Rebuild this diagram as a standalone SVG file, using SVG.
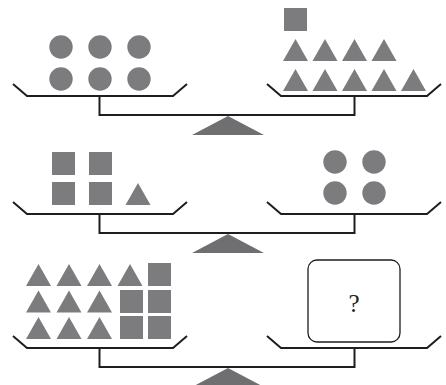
<svg xmlns="http://www.w3.org/2000/svg" width="446" height="385" viewBox="0 0 446 385">
  <defs>
    <style>
      .line { fill: none; stroke: #1e1e1e; stroke-width: 2; stroke-linejoin: miter; }
      .shape { fill: #7c7c7f; }
      .base { fill: #6f6f72; }
      .box { fill: #ffffff; stroke: #1e1e1e; stroke-width: 1.3; }
      .q { font-family: "Liberation Serif", "DejaVu Serif", serif; font-size: 25px; fill: #222; text-anchor: middle; }
    </style>
    <!-- pan: tilted rims joined by a flat floor -->
    <path id="pan" class="line" d="M0,0 L14,12 L160,12 L174,0"/>
    <circle id="ball" class="shape" r="11.7"/>
    <rect id="sq" class="shape" width="23" height="23"/>
    <path id="tri" class="shape" d="M0,22 L12.5,0 L25,22 Z"/>
  </defs>

  <!-- connectors: stems and beams of the three balances -->
  <g id="connectors">
    <path class="line" d="M99.5,96 V115 H354.5 V96"/>
    <path class="line" d="M99.5,214 V233 H354.5 V214"/>
    <path class="line" d="M99.5,348 V367 H354.5 V348"/>
  </g>

  <!-- fulcrums -->
  <g id="fulcrum1"><path class="base" d="M192,135 L228,116 L264,135 Z"/></g>
  <g id="fulcrum2"><path class="base" d="M192,253 L228,234 L264,253 Z"/></g>
  <g id="fulcrum3"><path class="base" d="M192,387 L228,368 L264,387 Z"/></g>

  <!-- balance 1 -->
  <g id="pan1-left">
    <use href="#pan" x="13" y="84"/>
    <use href="#ball" x="61" y="47"/>
    <use href="#ball" x="100" y="47"/>
    <use href="#ball" x="139" y="47"/>
    <use href="#ball" x="61" y="79"/>
    <use href="#ball" x="100" y="79"/>
    <use href="#ball" x="139" y="79"/>
  </g>
  <g id="pan1-right">
    <use href="#pan" x="267" y="84"/>
    <use href="#sq" x="284" y="8"/>
    <use href="#tri" x="283" y="39"/>
    <use href="#tri" x="312.5" y="39"/>
    <use href="#tri" x="342" y="39"/>
    <use href="#tri" x="371.5" y="39"/>
    <use href="#tri" x="283" y="69"/>
    <use href="#tri" x="312.5" y="69"/>
    <use href="#tri" x="342" y="69"/>
    <use href="#tri" x="371.5" y="69"/>
    <use href="#tri" x="401" y="69"/>
  </g>

  <!-- balance 2 -->
  <g id="pan2-left">
    <use href="#pan" x="13" y="202"/>
    <use href="#sq" x="52" y="152"/>
    <use href="#sq" x="89" y="152"/>
    <use href="#sq" x="52" y="182"/>
    <use href="#sq" x="89" y="182"/>
    <use href="#tri" x="125.5" y="183"/>
  </g>
  <g id="pan2-right">
    <use href="#pan" x="267" y="202"/>
    <use href="#ball" x="335" y="162"/>
    <use href="#ball" x="374" y="162"/>
    <use href="#ball" x="335" y="193"/>
    <use href="#ball" x="374" y="193"/>
  </g>

  <!-- balance 3 -->
  <g id="pan3-left">
    <use href="#pan" x="13" y="336"/>
    <use href="#tri" x="26" y="264"/>
    <use href="#tri" x="56.5" y="264"/>
    <use href="#tri" x="87" y="264"/>
    <use href="#tri" x="117.5" y="264"/>
    <use href="#tri" x="26" y="290.5"/>
    <use href="#tri" x="56.5" y="290.5"/>
    <use href="#tri" x="87" y="290.5"/>
    <use href="#tri" x="26" y="317"/>
    <use href="#tri" x="56.5" y="317"/>
    <use href="#tri" x="87" y="317"/>
    <use href="#sq" x="148" y="263"/>
    <use href="#sq" x="120" y="290"/>
    <use href="#sq" x="148" y="290"/>
    <use href="#sq" x="120" y="316"/>
    <use href="#sq" x="148" y="316"/>
  </g>
  <g id="pan3-right">
    <use href="#pan" x="267" y="336"/>
    <rect class="box" x="308" y="260" width="92" height="82" rx="9"/>
    <text class="q" x="354" y="312">?</text>
  </g>
</svg>
